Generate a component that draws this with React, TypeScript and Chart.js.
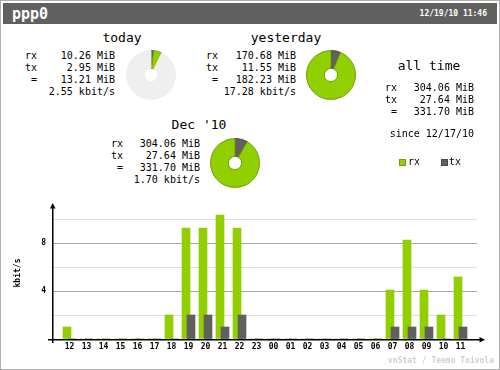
import React, { useEffect, useRef } from 'react';
import { Chart, registerables } from 'chart.js';

Chart.register(...registerables);

// ---- data ----
const hours = ['12', '13', '14', '15', '16', '17', '18', '19', '20', '21', '22', '23', '00', '01', '02', '03', '04', '05', '06', '07', '08', '09', '10', '11'];
const rxKbit = [1, 0, 0, 0, 0, 0, 2, 9.25, 9.25, 10.33, 9.25, 0, 0, 0, 0, 0, 0, 0, 0, 4.08, 8.25, 4.08, 2, 5.17];
const txKbit = [0, 0, 0, 0, 0, 0, 0, 2, 2, 1, 2, 0, 0, 0, 0, 0, 0, 0, 0, 1, 1, 1, 0, 1];
const yTicks = [0, 2, 4, 6, 8, 10];
const yLabelTicks = [4, 8];
const yMajorTicks = [4, 8];

const periodTitles = ['today', 'yesterday', "Dec '10"];
const periodRx = [10.26, 170.68, 304.06];
const periodTx = [2.95, 11.55, 27.64];
const periodTotal = [13.21, 182.23, 331.7];
const periodRate = [2.55, 17.28, 1.7];

const allTimeRx = 304.06;
const allTimeTx = 27.64;
const allTimeTotal = 331.7;
const allTimeSince = '12/17/10';

const interfaceName = 'ppp0';
const headerDate = '12/19/10 11:46';
const footerText = 'vnStat / Teemu Toivola';
const legendLabels = ['rx', 'tx'];

// ---- style ----
const rxColor = '#92cf00';
const rxDark = '#6f9e00';
const txColor = '#606060';
const txDark = '#474747';
const restColor = '#efefef';
const MONO = '"DejaVu Sans Mono", "Liberation Mono", monospace';

function BarChart() {
  const ref = useRef<HTMLCanvasElement>(null);
  useEffect(() => {
    const axesPlugin = {
      id: 'vnAxes',
      afterDraw(chart: any) {
        const { ctx, chartArea } = chart;
        const { left, right, top, bottom } = chartArea;
        ctx.save();
        ctx.fillStyle = '#000';
        // x axis
        ctx.fillRect(left - 4, bottom, right - left + 9, 1.5);
        // y axis
        ctx.fillRect(left, top - 1, 1.5, bottom - top + 5);
        // arrows
        ctx.beginPath();
        ctx.moveTo(left + 0.75, top - 4);
        ctx.lineTo(left - 2, top + 1.5);
        ctx.lineTo(left + 3.5, top + 1.5);
        ctx.closePath();
        ctx.fill();
        ctx.beginPath();
        ctx.moveTo(right + 8, bottom + 0.75);
        ctx.lineTo(right + 2.5, bottom - 2);
        ctx.lineTo(right + 2.5, bottom + 3.5);
        ctx.closePath();
        ctx.fill();
        ctx.restore();
      },
    };
    const barShift = 2.5 / 17;
    const chart = new Chart(ref.current as HTMLCanvasElement, {
      type: 'bar',
      data: {
        datasets: [
          {
            label: legendLabels[0],
            data: rxKbit.map((y, i) => ({ x: i - barShift, y })),
            backgroundColor: rxColor,
            barThickness: 8,
            grouped: false,
            order: 2,
          } as any,
          {
            label: legendLabels[1],
            data: txKbit.map((y, i) => ({ x: i + barShift, y })),
            backgroundColor: txColor,
            barThickness: 8,
            grouped: false,
            order: 1,
          } as any,
        ],
      },
      options: {
        responsive: false,
        animation: false,
        devicePixelRatio: 1,
        layout: { padding: { left: 0, right: 23, top: 207, bottom: 0 } },
        plugins: { legend: { display: false }, tooltip: { enabled: false } },
        scales: {
          x: {
            type: 'linear',
            min: -1.0294,
            max: 23.9706,
            offset: false,
            grid: { display: false, drawTicks: false },
            border: { display: false },
            afterBuildTicks: (s: any) => {
              s.ticks = hours.map((_, i) => ({ value: i }));
            },
            afterFit: (s: any) => {
              s.height = 31;
            },
            ticks: {
              autoSkip: false,
              maxRotation: 0,
              padding: 3,
              color: '#000',
              font: { family: MONO, size: 8, weight: 'bold' },
              callback: (v: any) => (hours[v] !== undefined ? hours[v] : ''),
            },
          } as any,
          y: {
            type: 'linear',
            min: 0,
            max: 11,
            grid: {
              drawTicks: false,
              lineWidth: 1,
              color: (c: any) => {
                const v = c.tick ? c.tick.value : 0;
                if (v === 0) return 'rgba(0,0,0,0)';
                return yMajorTicks.includes(v) ? '#a9a9a9' : '#dedede';
              },
            },
            border: { display: false },
            afterBuildTicks: (s: any) => {
              s.ticks = yTicks.map((v) => ({ value: v }));
            },
            afterFit: (s: any) => {
              s.width = 52;
            },
            ticks: {
              padding: 6,
              color: '#000',
              font: { family: MONO, size: 8, weight: 'bold' },
              callback: (v: any) => (yLabelTicks.includes(v) ? String(v) : ''),
            },
            title: {
              display: true,
              text: 'kbit/s',
              color: '#000',
              font: { family: MONO, size: 8, weight: 'bold' },
              padding: { top: 13, bottom: 0 },
            },
          } as any,
        },
      },
      plugins: [axesPlugin],
    });
    return () => chart.destroy();
  }, []);
  return (
    <canvas
      ref={ref}
      width={500}
      height={370}
      style={{ position: 'absolute', left: 0, top: 0, width: 500, height: 370 }}
    />
  );
}

function Pie(props: { values: number[]; colors: string[]; borders: string[]; cx: number; cy: number }) {
  const ref = useRef<HTMLCanvasElement>(null);
  const { values, colors, borders, cx, cy } = props;
  useEffect(() => {
    const chart = new Chart(ref.current as HTMLCanvasElement, {
      type: 'doughnut',
      data: {
        labels: values.map((_, i) => String(i)),
        datasets: [{ data: values, backgroundColor: colors, borderColor: borders, borderWidth: 1 }],
      },
      options: {
        responsive: false,
        animation: false,
        devicePixelRatio: 1,
        cutout: '27%',
        layout: { padding: 0 },
        plugins: { legend: { display: false }, tooltip: { enabled: false } },
      } as any,
    });
    return () => chart.destroy();
  }, []);
  return (
    <canvas
      ref={ref}
      width={50}
      height={50}
      style={{ position: 'absolute', left: cx - 25, top: cy - 25, width: 50, height: 50 }}
    />
  );
}

function T(props: {
  x: number;
  cy: number;
  align?: 'left' | 'right' | 'center';
  size?: number;
  bold?: boolean;
  color?: string;
  children: React.ReactNode;
}) {
  const { x, cy, align = 'left', size = 10, bold = false, color = '#000' } = props;
  const lh = Math.round(size * 1.2);
  const style: React.CSSProperties = {
    position: 'absolute',
    top: cy - lh / 2,
    fontFamily: MONO,
    fontSize: size,
    lineHeight: lh + 'px',
    fontWeight: bold ? 'bold' : 'normal',
    color,
    whiteSpace: 'pre',
  };
  if (align === 'left') style.left = x;
  else if (align === 'right') style.right = 500 - x;
  else {
    style.left = x - 100;
    style.width = 200;
    style.textAlign = 'center';
  }
  return <div style={style}>{props.children}</div>;
}

function Summary(props: { idx: number; titleX: number; titleY: number; labelX: number; endX: number; rowY: number }) {
  const { idx, titleX, titleY, labelX, endX, rowY } = props;
  const f = (v: number) => v.toFixed(2);
  return (
    <>
      <T x={titleX} cy={titleY} align="center" size={13}>{periodTitles[idx]}</T>
      <T x={labelX} cy={rowY}>rx</T>
      <T x={endX} cy={rowY} align="right">{f(periodRx[idx]) + ' MiB'}</T>
      <T x={labelX} cy={rowY + 12}>tx</T>
      <T x={endX} cy={rowY + 12} align="right">{f(periodTx[idx]) + ' MiB'}</T>
      <T x={labelX + 6} cy={rowY + 24}>=</T>
      <T x={endX} cy={rowY + 24} align="right">{f(periodTotal[idx]) + ' MiB'}</T>
      <T x={endX} cy={rowY + 36} align="right">{f(periodRate[idx]) + ' kbit/s'}</T>
    </>
  );
}

export default function App() {
  const todayPie = [periodTx[0], periodRx[0], periodTotal[1] - periodTotal[0]];
  const yesterdayPie = [periodTx[1], periodRx[1]];
  const monthPie = [periodTx[2], periodRx[2]];
  return (
    <div
      style={{
        position: 'fixed',
        left: 0,
        top: 0,
        width: 500,
        height: 370,
        background: '#fff',
        boxShadow: 'inset 0 0 0 1px #aeaeae',
        overflow: 'hidden',
      }}
    >
      <div style={{ position: 'absolute', left: 3, top: 3, width: 494, height: 21, background: '#606060' }} />
      <T x={12} cy={14} size={15} bold color="#fff">{interfaceName}</T>
      <T x={487} cy={14} align="right" size={8} bold color="#fff">{headerDate}</T>

      <Summary idx={0} titleX={122} titleY={38} labelX={25} endX={115} rowY={56} />
      <Summary idx={1} titleX={286} titleY={38} labelX={206} endX={296} rowY={56} />
      <Summary idx={2} titleX={199} titleY={125} labelX={111} endX={200} rowY={143.5} />

      <Pie values={todayPie} colors={[txColor, rxColor, restColor]} borders={[txDark, rxDark, restColor]} cx={150.5} cy={75} />
      <Pie values={yesterdayPie} colors={[txColor, rxColor]} borders={[txDark, rxDark]} cx={330.5} cy={75} />
      <Pie values={monthPie} colors={[txColor, rxColor]} borders={[txDark, rxDark]} cx={235} cy={163} />

      <T x={429} cy={66} align="center" size={13}>all time</T>
      <T x={385} cy={88}>rx</T>
      <T x={474} cy={88} align="right">{allTimeRx.toFixed(2) + ' MiB'}</T>
      <T x={385} cy={100}>tx</T>
      <T x={474} cy={100} align="right">{allTimeTx.toFixed(2) + ' MiB'}</T>
      <T x={391} cy={112}>=</T>
      <T x={474} cy={112} align="right">{allTimeTotal.toFixed(2) + ' MiB'}</T>
      <T x={474} cy={134} align="right">{'since ' + allTimeSince}</T>

      <div style={{ position: 'absolute', left: 399, top: 159, width: 5, height: 5, background: rxColor, border: '1px solid ' + rxDark }} />
      <T x={408} cy={162}>{legendLabels[0]}</T>
      <div style={{ position: 'absolute', left: 441, top: 159, width: 5, height: 5, background: txColor, border: '1px solid ' + txDark }} />
      <T x={449} cy={162}>{legendLabels[1]}</T>

      <BarChart />

      <T x={494} cy={361} align="right" size={8} bold color="#d0d0d0">{footerText}</T>
    </div>
  );
}
